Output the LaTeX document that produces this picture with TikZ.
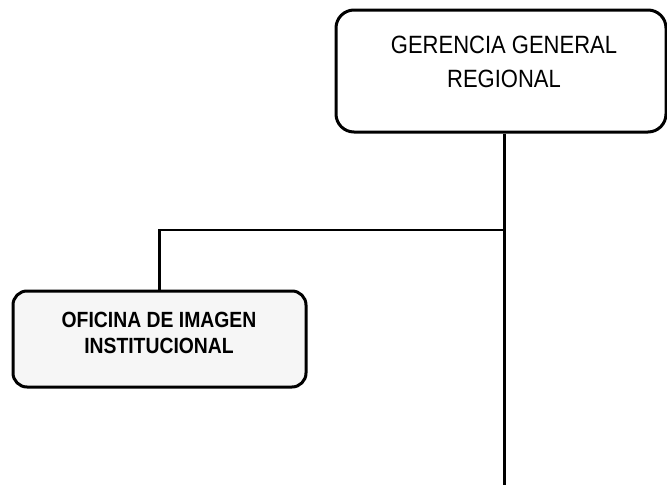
\documentclass[tikz,border=0pt]{standalone}
\usepackage{fontspec}
\setmainfont[FakeStretch=0.88]{Liberation Sans}
\begin{document}
\begin{tikzpicture}[x=1pt,y=1pt,
  boxline/.style={draw=black,line width=3pt,rounded corners=18pt,inner sep=0pt},
  conn/.style={draw=black,line width=2.2pt},
  toptext/.style={align=center,font=\fontsize{25}{34}\selectfont,inner sep=0pt},
  lefttext/.style={align=center,font=\bfseries\fontsize{22}{25.5}\selectfont,inner sep=0pt}]
\useasboundingbox (0,0) rectangle (667,-485);
\node[boxline,minimum width=330pt,minimum height=122pt] (top) at (501,-71) {};
\node[toptext,anchor=base] (toptxt) at (504,-87) {GERENCIA GENERAL\\REGIONAL};
\node[boxline,fill=gray!7,rounded corners=14pt,minimum width=293pt,minimum height=96pt] (left) at (159.5,-339) {};
\node[lefttext,anchor=base] (lefttxt) at (159,-353) {OFICINA DE IMAGEN\\INSTITUCIONAL};
\coordinate (bend) at (504,-230);
\coordinate (bot) at (504,-485);
\draw[conn,line width=3pt] (top.south -| bend) -- (bot);
\draw[conn] (bend) -| (left.north);
\end{tikzpicture}
\end{document}
